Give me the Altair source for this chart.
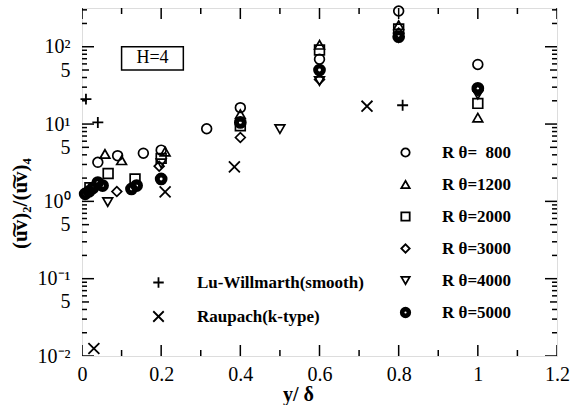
import altair as alt
import pandas as pd

# ---------------- data ----------------
series_names = ["R \u03b8=\u00a0\u00a0800", "R \u03b8=1200", "R \u03b8=2000",
                "R \u03b8=3000", "R \u03b8=4000", "R \u03b8=5000"]
# open symbols; the last one is a bull's-eye drawn with concentric strokes (looks filled)
BULLSEYE = ("M-1.13,0A1.13,1.13 0 1,0 1.13,0A1.13,1.13 0 1,0 -1.13,0Z"
            "M-0.8,0A0.8,0.8 0 1,0 0.8,0A0.8,0.8 0 1,0 -0.8,0Z"
            "M-0.47,0A0.47,0.47 0 1,0 0.47,0A0.47,0.47 0 1,0 -0.47,0Z")
series_shapes = ["circle", "triangle-up", "square", "diamond", "triangle-down", BULLSEYE]

r800_x = [0.04, 0.09, 0.155, 0.2, 0.315, 0.4, 0.6, 0.8, 1.0]
r800_y = [3.2, 3.9, 4.2, 4.6, 8.7, 16.3, 69, 290, 59]
r1200_x = [0.058, 0.10, 0.21, 0.4, 0.6, 0.8, 1.0]
r1200_y = [4.1, 3.4, 4.4, 13.4, 106, 190, 12.1]
r2000_x = [0.02, 0.066, 0.134, 0.2, 0.4, 0.6, 0.8, 1.0]
r2000_y = [1.5, 2.3, 1.95, 3.6, 9.5, 91, 170, 18.5]
r3000_x = [0.03, 0.088, 0.195, 0.4, 0.6, 0.8, 1.0]
r3000_y = [1.55, 1.34, 2.85, 6.7, 37.7, 150, 27]
r4000_x = [0.065, 0.2, 0.5, 0.6, 0.8, 1.0]
r4000_y = [0.98, 3.1, 8.6, 36, 130, 24]
r5000_x = [0.008, 0.018, 0.028, 0.04, 0.052, 0.125, 0.138, 0.2, 0.4, 0.6, 0.8, 1.0]
r5000_y = [1.25, 1.35, 1.5, 1.75, 1.6, 1.45, 1.6, 1.95, 10.5, 50, 135, 29]

ref_names = ["Lu-Willmarth(smooth)", "Raupach(k-type)"]
ref_shapes = ["M-1,0L1,0M0,-1L0,1", "M-1,-1L1,1M-1,1L1,-1"]
lu_x = [0.01, 0.04, 0.81]
lu_y = [21, 10.5, 17.5]
raupach_x = [0.03, 0.21, 0.385, 0.72]
raupach_y = [0.0125, 1.33, 2.8, 17]

x_ticks = [0.0, 0.1, 0.2, 0.3, 0.4, 0.5, 0.6, 0.7, 0.8, 0.9, 1.0, 1.1, 1.2]
x_labels = ["0", "", "0.2", "", "0.4", "", "0.6", "", "0.8", "", "1", "", "1.2"]

y_decades = [0.01, 0.1, 1, 10, 100]
y_decade_labels = ["10\u207b\u00b2", "10\u207b\u00b9", "10\u2070", "10\u00b9", "10\u00b2"]
y_fives = [0.05, 0.5, 5, 50]
y_five_label = "5"
y_ticks = []
for d in y_decades:
    for m in range(1, 10):
        v = round(d * m, 6)
        if v <= 300:
            y_ticks.append(v)

annot_text = "H=4"

# ---------------- tables ----------------
rows = []
for name, xs, ys in zip(series_names,
                        [r800_x, r1200_x, r2000_x, r3000_x, r4000_x, r5000_x],
                        [r800_y, r1200_y, r2000_y, r3000_y, r4000_y, r5000_y]):
    for xv, yv in zip(xs, ys):
        rows.append({"series": name, "x": xv, "y": yv})
df = pd.DataFrame(rows)

ref_rows = []
for name, xs, ys in zip(ref_names, [lu_x, raupach_x], [lu_y, raupach_y]):
    for xv, yv in zip(xs, ys):
        ref_rows.append({"series": name, "x": xv, "y": yv})
df_ref = pd.DataFrame(ref_rows)

df_box = pd.DataFrame([{"x": 0.10, "x2": 0.256, "y": 100, "y2": 50,
                        "tx": 0.178, "ty": 71, "label": annot_text}])

# tick tables (length doubled because ticks are centred on the frame and clipped)
df_xt = pd.DataFrame({"v": x_ticks, "len": [22 if l else 12 for l in x_labels]})
df_yt = pd.DataFrame({"v": y_ticks,
                      "len": [24 if v in y_decades else (14 if v in y_fives else 10)
                              for v in y_ticks]})

# ---------------- expressions ----------------
def close(v):
    if v == 0:
        return "abs(datum.value) < 1e-9"
    return f"abs(datum.value - {v}) < {v} * 1e-6"

xlab = " : ".join(f"{close(v)} ? '{l}'" for v, l in zip(x_ticks, x_labels)) + " : ''"
ylab = " : ".join(f"{close(v)} ? '{l}'" for v, l in zip(y_decades, y_decade_labels))
ylab += " : " + " : ".join(f"{close(v)} ? '{y_five_label}'" for v in y_fives) + " : ''"

FONT = "Liberation Serif"
W, H = 475, 348

x_scale = alt.Scale(domain=[0, 1.2], nice=False, zero=False)
y_scale = alt.Scale(type="log", domain=[0.01, 317], nice=False)

x_axis_labels = alt.Axis(values=x_ticks, labelExpr=xlab, orient="bottom", ticks=False,
                         domain=False, grid=False, labelPadding=8, labelFlush=False,
                         labelFont=FONT, labelFontSize=20, labelColor="black",
                         title="y/ \u03b4", titleFont=FONT, titleColor="black",
                         titleFontSize=20, titleFontWeight="bold",
                         titleX=216, titleY=38, titleBaseline="middle")
y_axis_labels = alt.Axis(values=y_ticks, labelExpr=ylab, orient="left", ticks=False,
                         domain=False, grid=False, labelPadding=12,
                         labelFont=FONT, labelFontSize=20, labelColor="black",
                         title="(u\u0360v)\u2082/(u\u0360v)\u2084", titleFont=FONT,
                         titleColor="black", titleFontSize=21, titleFontWeight="bold",
                         titleX=-62, titleY=195, titleBaseline="middle", titleAngle=-90)

legend_r = alt.Legend(title=None, orient="none", legendX=315, legendY=136,
                      labelFont=FONT, labelFontSize=17, labelFontWeight="bold",
                      labelColor="black", labelLimit=300,
                      symbolSize=70, symbolStrokeWidth=1.8, symbolStrokeColor="black",
                      symbolFillColor="transparent",
                      labelOffset=28, rowPadding=14, padding=0)
legend_ref = alt.Legend(title=None, orient="none", legendX=68, legendY=266,
                        labelFont=FONT, labelFontSize=17, labelFontWeight="bold",
                        labelColor="black", labelLimit=300,
                        symbolSize=110, symbolStrokeWidth=1.8, symbolStrokeColor="black",
                        symbolFillColor="transparent",
                        labelOffset=30, rowPadding=15, padding=0)

points = alt.Chart(df).mark_point(filled=False, stroke="black", strokeWidth=1.7,
                                  size=95, opacity=1).encode(
    x=alt.X("x:Q", scale=x_scale, axis=x_axis_labels),
    y=alt.Y("y:Q", scale=y_scale, axis=y_axis_labels),
    shape=alt.Shape("series:N", scale=alt.Scale(domain=series_names, range=series_shapes),
                    legend=legend_r, sort=series_names),
)

refs = alt.Chart(df_ref).mark_point(filled=False, stroke="black", strokeWidth=1.8,
                                    size=120, opacity=1).encode(
    x=alt.X("x:Q", scale=x_scale, axis=None),
    y=alt.Y("y:Q", scale=y_scale, axis=None),
    shape=alt.Shape("series:N", scale=alt.Scale(domain=ref_names, range=ref_shapes),
                    legend=legend_ref, sort=ref_names),
)

def xticks_at(ypix):
    return alt.Chart(df_xt).mark_tick(orient="vertical", thickness=1.5, color="black",
                                      opacity=1, clip=True).encode(
        x=alt.X("v:Q", scale=x_scale, axis=None),
        y=alt.value(ypix),
        size=alt.Size("len:Q", scale=None, legend=None),
    )

def yticks_at(xpix):
    return alt.Chart(df_yt).mark_tick(orient="horizontal", thickness=1.5, color="black",
                                      opacity=1, clip=True).encode(
        y=alt.Y("v:Q", scale=y_scale, axis=None),
        x=alt.value(xpix),
        size=alt.Size("len:Q", scale=None, legend=None),
    )

box = alt.Chart(df_box).mark_rect(fill="white", stroke="black", strokeWidth=1.5).encode(
    x=alt.X("x:Q", scale=x_scale, axis=None), x2="x2:Q",
    y=alt.Y("y:Q", scale=y_scale, axis=None), y2="y2:Q",
)
box_text = alt.Chart(df_box).mark_text(font=FONT, fontSize=18, color="black").encode(
    x=alt.X("tx:Q", scale=x_scale, axis=None),
    y=alt.Y("ty:Q", scale=y_scale, axis=None),
    text="label:N",
)

chart = alt.layer(
    points, refs, xticks_at(0), xticks_at(H), yticks_at(0), yticks_at(W),
    box, box_text
).resolve_scale(
    shape="independent", size="independent"
).resolve_axis(
    x="independent", y="independent"
).properties(
    width=W, height=H,
    padding={"left": 82, "top": 8, "right": 13, "bottom": 49},
    autosize=alt.AutoSizeParams(type="none"),
).configure_view(stroke="black", strokeWidth=1.8).configure(background="white")

chart.save("out.html", embed_options={"renderer": "svg", "actions": False})
